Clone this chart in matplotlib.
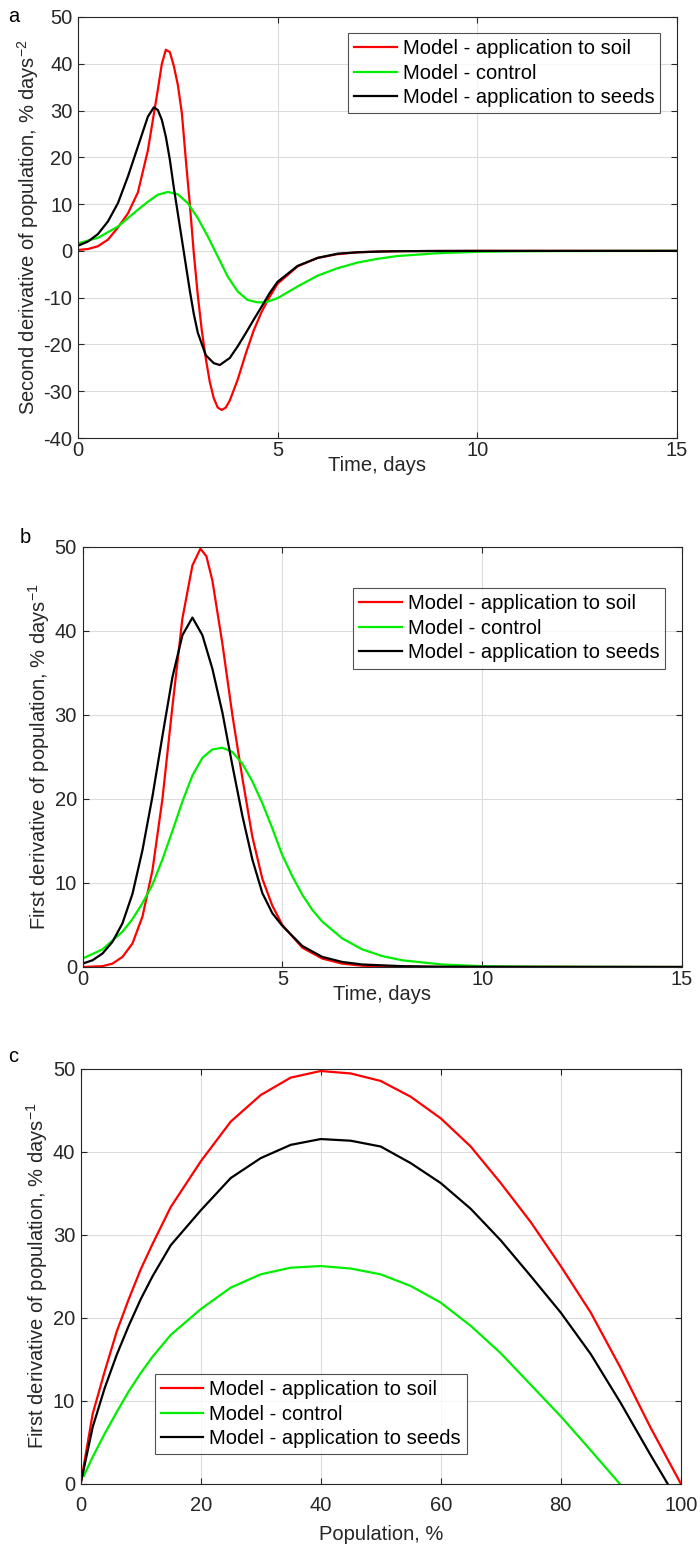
import matplotlib
matplotlib.use('Agg')
import matplotlib.pyplot as plt

plt.rcParams['font.family'] = ['Liberation Sans', 'DejaVu Sans']
plt.rcParams['mathtext.default'] = 'regular'
plt.rcParams['axes.unicode_minus'] = False

# --- panel a: second derivative vs time ---
t_a_soil = [0, 0.25, 0.5, 0.75, 1, 1.25, 1.5, 1.75, 2, 2.1, 2.2, 2.3, 2.4, 2.5, 2.6, 2.7, 2.8, 2.9, 3.0,
            3.1, 3.2, 3.3, 3.4, 3.5, 3.6, 3.7, 3.8, 4.0, 4.2, 4.4, 4.6, 4.8, 5.0, 5.5, 6, 6.5, 7, 7.5, 8, 9, 10, 15]
a_soil = [0.2, 0.4, 1.0, 2.4, 5.0, 8.0, 12.5, 21.5, 34.5, 40.0, 43.0, 42.5, 39.5, 35.5, 29.5, 19.5, 10.0, -0.5, -9.5,
          -17.0, -23.0, -28.0, -31.5, -33.5, -34.0, -33.5, -32.0, -27.5, -22.0, -17.0, -13.0, -9.8, -7.0, -3.3, -1.5, -0.7, -0.3, -0.15, -0.07, -0.02, 0, 0]

t_a_control = [0, 0.5, 1, 1.5, 1.75, 2, 2.25, 2.5, 2.75, 3, 3.25, 3.5, 3.75, 4, 4.25, 4.5, 4.7, 5,
               5.5, 6, 6.5, 7, 7.5, 8, 9, 10, 11, 12, 15]
a_control = [1.6, 2.8, 5.2, 8.8, 10.5, 12.0, 12.6, 12.1, 10.2, 7.0, 3.1, -1.2, -5.5, -8.7, -10.5, -11.0, -11.0, -10.1,
             -7.6, -5.3, -3.7, -2.5, -1.7, -1.1, -0.5, -0.2, -0.1, -0.04, 0]

t_a_seeds = [0, 0.25, 0.5, 0.75, 1, 1.25, 1.5, 1.75, 1.9, 2.0, 2.1, 2.2, 2.3, 2.4, 2.5, 2.6, 2.7, 2.8, 2.9, 3.0,
             3.2, 3.4, 3.55, 3.8, 4.0, 4.2, 4.4, 4.6, 4.8, 5.0, 5.5, 6, 6.5, 7, 7.5, 8, 9, 10, 15]
a_seeds = [1.1, 2.0, 3.6, 6.3, 10.2, 15.9, 22.3, 28.7, 30.7, 30.1, 28.0, 24.4, 19.5, 13.5, 8.0, 2.5, -3.0, -8.5, -13.5, -17.5,
           -22.3, -24.0, -24.4, -22.9, -20.4, -17.6, -14.7, -11.9, -9.0, -6.6, -3.2, -1.5, -0.6, -0.3, -0.15, -0.07, -0.02, 0, 0]

# --- panel b: first derivative vs time ---
t_b_soil = [0, 0.5, 0.75, 1, 1.25, 1.5, 1.75, 2, 2.25, 2.5, 2.75, 2.95, 3.1, 3.25, 3.5, 3.75, 4, 4.25, 4.5, 4.75,
            5, 5.5, 6, 6.5, 7, 8, 9, 15]
b_soil = [0, 0.1, 0.4, 1.2, 2.8, 6.0, 11.5, 20.0, 31.0, 41.5, 47.8, 49.8, 48.9, 46.0, 38.5, 30.0, 22.5, 15.5, 10.5, 7.3,
          5.0, 2.3, 1.0, 0.4, 0.15, 0.04, 0.01, 0]

t_b_control = [0, 0.5, 1, 1.25, 1.5, 1.75, 2, 2.25, 2.5, 2.75, 3, 3.25, 3.5, 3.75, 4, 4.25, 4.5, 4.75, 5, 5.25,
               5.5, 5.75, 6, 6.5, 7, 7.5, 8, 9, 10, 11, 15]
b_control = [1.0, 2.1, 4.2, 5.7, 7.6, 9.8, 12.8, 16.2, 19.7, 22.8, 24.9, 25.9, 26.1, 25.6, 24.2, 22.1, 19.5, 16.5, 13.3, 10.8,
             8.6, 6.8, 5.4, 3.4, 2.1, 1.3, 0.8, 0.3, 0.1, 0.04, 0]

t_b_seeds = [0, 0.25, 0.5, 0.75, 1, 1.25, 1.5, 1.75, 2, 2.25, 2.5, 2.75, 3, 3.25, 3.5, 3.75, 4, 4.25, 4.5, 4.75,
             5, 5.5, 6, 6.5, 7, 8, 9, 15]
b_seeds = [0.4, 0.8, 1.6, 3.0, 5.2, 8.7, 13.9, 20.3, 27.5, 34.5, 39.5, 41.6, 39.5, 35.5, 30.3, 24.0, 18.0, 12.8, 8.8, 6.4,
           4.9, 2.5, 1.2, 0.6, 0.3, 0.1, 0.03, 0]

# --- panel c: first derivative vs population ---
p_soil = [0, 2, 4, 6, 8, 10, 12, 15, 20, 25, 30, 35, 40, 45, 50, 55, 60, 65, 70, 75, 80, 85, 90, 95, 100]
c_soil = [0, 8.4, 13.5, 18.3, 22.2, 25.8, 28.9, 33.3, 38.8, 43.6, 46.8, 48.9, 49.7, 49.4, 48.5, 46.6, 44.0, 40.6,
          36.2, 31.5, 26.2, 20.6, 13.9, 6.7, 0]

p_control = [0.5, 2, 4, 6, 8, 10, 12, 15, 20, 25, 30, 35, 40, 45, 50, 55, 60, 65, 70, 75, 80, 85, 89.8]
c_control = [0.9, 3.2, 6.0, 8.6, 11.1, 13.3, 15.3, 17.9, 21.0, 23.6, 25.2, 26.0, 26.2, 25.9, 25.2, 23.8, 21.8, 19.0,
             15.7, 11.9, 8.1, 4.0, 0]

p_seeds = [0, 2, 4, 6, 8, 10, 12, 15, 20, 25, 30, 35, 40, 45, 50, 55, 60, 65, 70, 75, 80, 85, 90, 95, 97.8]
c_seeds = [0, 6.8, 11.5, 15.5, 19.0, 22.2, 25.0, 28.7, 32.9, 36.8, 39.2, 40.8, 41.5, 41.3, 40.6, 38.6, 36.2, 33.1,
           29.3, 25.0, 20.6, 15.6, 9.7, 3.4, 0]

labels = ['Model - application to soil', 'Model - control', 'Model - application to seeds']
colors = ['#ff0000', '#00ee00', '#000000']

W, H = 700, 1551
fs = 14.5
fig = plt.figure(figsize=(W / 100, H / 100), dpi=100)


def make_ax(left, top, right, bottom):
    return fig.add_axes([left / W, 1 - bottom / H, (right - left) / W, (bottom - top) / H])


def style(ax, xpad=2):
    ax.grid(True, color='#dcdcdc', linewidth=0.8)
    ax.set_axisbelow(True)
    for s in ax.spines.values():
        s.set_color('#262626')
        s.set_linewidth(0.8)
    ax.tick_params(direction='in', top=True, right=True, labelsize=fs, colors='#262626',
                   length=4, width=0.8)
    ax.tick_params(axis='y', pad=4)
    ax.tick_params(axis='x', pad=xpad)


def add_legend(ax, loc, anchor):
    leg = ax.legend(loc=loc, bbox_to_anchor=anchor, fontsize=fs, frameon=True, fancybox=False,
                    edgecolor='#262626', handlelength=2.1, handletextpad=0.3, borderpad=0.3,
                    labelspacing=0.28, borderaxespad=0)
    leg.get_frame().set_linewidth(0.8)


lw = 1.6

ax1 = make_ax(78, 17, 677, 438)
ax1.plot(t_a_soil, a_soil, color=colors[0], linewidth=lw, label=labels[0])
ax1.plot(t_a_control, a_control, color=colors[1], linewidth=lw, label=labels[1])
ax1.plot(t_a_seeds, a_seeds, color=colors[2], linewidth=lw, label=labels[2])
ax1.set_xlim(0, 15)
ax1.set_ylim(-40, 50)
ax1.set_xticks([0, 5, 10, 15])
ax1.set_yticks(range(-40, 51, 10))
ax1.set_xlabel('Time, days', fontsize=fs, color='#262626', labelpad=-3)
ax1.set_ylabel('Second derivative of population, % days$^{-2}$', fontsize=fs, color='#262626', labelpad=2)
style(ax1)
add_legend(ax1, 'upper right', (0.972, 0.962))
fig.text(8 / W, 1 - 16 / H, 'a', fontsize=fs, va='center', ha='left')

ax2 = make_ax(82.5, 547, 682, 967)
ax2.plot(t_b_soil, b_soil, color=colors[0], linewidth=lw, label=labels[0])
ax2.plot(t_b_control, b_control, color=colors[1], linewidth=lw, label=labels[1])
ax2.plot(t_b_seeds, b_seeds, color=colors[2], linewidth=lw, label=labels[2])
ax2.set_xlim(0, 15)
ax2.set_ylim(0, 50)
ax2.set_xticks([0, 5, 10, 15])
ax2.set_yticks(range(0, 51, 10))
ax2.set_xlabel('Time, days', fontsize=fs, color='#262626', labelpad=-3)
ax2.set_ylabel('First derivative of population, % days$^{-1}$', fontsize=fs, color='#262626', labelpad=2)
style(ax2)
add_legend(ax2, 'upper right', (0.972, 0.902))
fig.text(20 / W, 1 - 537 / H, 'b', fontsize=fs, va='center', ha='left')

ax3 = make_ax(80.7, 1068.5, 680.7, 1483.5)
ax3.plot(p_soil, c_soil, color=colors[0], linewidth=lw, label=labels[0])
ax3.plot(p_control, c_control, color=colors[1], linewidth=lw, label=labels[1])
ax3.plot(p_seeds, c_seeds, color=colors[2], linewidth=lw, label=labels[2])
ax3.set_xlim(0, 100)
ax3.set_ylim(0, 50)
ax3.set_xticks(range(0, 101, 20))
ax3.set_yticks(range(0, 51, 10))
ax3.set_xlabel('Population, %', fontsize=fs, color='#262626', labelpad=7)
ax3.set_ylabel('First derivative of population, % days$^{-1}$', fontsize=fs, color='#262626', labelpad=2)
style(ax3, xpad=9)
add_legend(ax3, 'lower left', (0.123, 0.07))
fig.text(8 / W, 1 - 1057 / H, 'c', fontsize=fs, va='center', ha='left')

fig.savefig('out.png', dpi=100)
